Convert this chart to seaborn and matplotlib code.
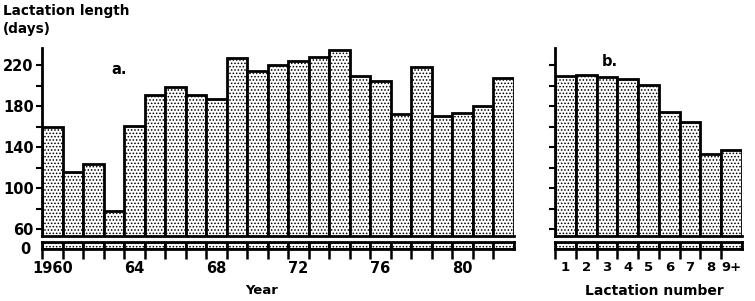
import numpy as np
import pandas as pd
import matplotlib
matplotlib.use("Agg")
import matplotlib.pyplot as plt
import seaborn as sns

# ---- data ----
years = list(range(1960, 1983))
year_length = [160, 116, 123, 78, 161, 191, 199, 191, 187, 227, 214,
               220, 224, 228, 235, 209, 204, 172, 218, 170, 173, 180, 207]
year_ticklabels = {0: "1960", 4: "64", 8: "68", 12: "72", 16: "76", 20: "80"}

lact_numbers = ["1", "2", "3", "4", "5", "6", "7", "8", "9+"]
lact_length = [209, 210, 208, 206, 201, 174, 164, 133, 137]

sns.set_theme(style="white")
plt.rcParams['font.family'] = ['DejaVu Sans']
plt.rcParams['text.color'] = 'black'
plt.rcParams['xtick.color'] = 'black'
plt.rcParams['ytick.color'] = 'black'
plt.rcParams['axes.labelcolor'] = 'black'
plt.rcParams['hatch.linewidth'] = 0.7
plt.rcParams['hatch.color'] = '#333333'

W, H = 755, 301
fig = plt.figure(figsize=(W / 100, H / 100), dpi=100)

def fx(px):
    return px / W

def fy(py):
    return 1 - py / H

# vertical layout (pixels)
up_top, up_bot = 47.6, 236.2
lo_top, lo_bot = 242.0, 248.5
YLIM_UP = (53, 237)
YLIM_LO = (0, 6.5)

def make_panel(x0, x1, cats, vals, ticklabels, tick_fs, letter, letter_xy, ylabels):
    ax_up = fig.add_axes([fx(x0), fy(up_bot), fx(x1 - x0), fy(up_top) - fy(up_bot)])
    ax_lo = fig.add_axes([fx(x0), fy(lo_bot), fx(x1 - x0), fy(lo_top) - fy(lo_bot)])
    df = pd.DataFrame({"cat": cats, "val": vals})
    for ax in (ax_up, ax_lo):
        sns.barplot(data=df, x="cat", y="val", ax=ax, color="white",
                    edgecolor="black", linewidth=2.0, width=1.0, saturation=1)
        for p in ax.patches:
            p.set_hatch(".....")
        ax.set_xlim(-0.5, len(cats) - 0.5)
        ax.set_xlabel("")
        ax.set_ylabel("")
        ax.set_facecolor("none")
    n = len(cats)
    # upper axis
    ax_up.set_ylim(*YLIM_UP)
    for s in ["top", "right"]:
        ax_up.spines[s].set_visible(False)
    for s in ["left", "bottom"]:
        ax_up.spines[s].set_linewidth(2.0)
        ax_up.spines[s].set_color("black")
    ax_up.set_xticks([])
    if ylabels:
        ax_up.set_yticks([60, 100, 140, 180, 220])
        ax_up.set_yticklabels(["60", "100", "140", "180", "220"],
                              fontsize=10.5, fontweight="bold")
        ax_up.set_yticks([80, 120, 160, 200], minor=True)
    else:
        ax_up.set_yticks(list(range(60, 237, 20)))
        ax_up.set_yticklabels([])
    ax_up.tick_params(axis="y", which="both", left=True, length=4, width=1.5,
                      color="black", direction="out", pad=2)
    ax_up.text(letter_xy[0], letter_xy[1], letter, transform=ax_up.transAxes,
               fontsize=10.5, fontweight="bold")
    # lower strip
    ax_lo.set_ylim(*YLIM_LO)
    for s in ["top", "bottom", "left", "right"]:
        ax_lo.spines[s].set_visible(True)
        ax_lo.spines[s].set_linewidth(2.0)
        ax_lo.spines[s].set_color("black")
    if ylabels:
        ax_lo.set_yticks([0])
        ax_lo.set_yticklabels(["0"], fontsize=10.5, fontweight="bold")
        ax_lo.tick_params(axis="y", length=0, pad=8)
    else:
        ax_lo.set_yticks([])
    ax_lo.set_xticks(np.arange(n) - 0.5, minor=True)
    ax_lo.set_xticks(list(ticklabels.keys()))
    ax_lo.set_xticklabels(list(ticklabels.values()), fontsize=tick_fs, fontweight="bold")
    ax_lo.tick_params(axis="x", which="minor", bottom=True, length=7, width=1.8,
                      color="black", direction="out")
    ax_lo.tick_params(axis="x", which="major", bottom=True, length=0, pad=9)
    return ax_up, ax_lo

axa_up, axa_lo = make_panel(42, 514, [str(y) for y in years], year_length,
                            year_ticklabels, 10.5, "a.", (0.148, 0.86), True)
axb_up, axb_lo = make_panel(555, 742, lact_numbers, lact_length,
                            {i: l for i, l in enumerate(lact_numbers)}, 9.5,
                            "b.", (0.25, 0.9), False)

fig.text(fx(262), fy(290), "Year", fontsize=9.5, fontweight="bold",
         ha="center", va="center")
fig.text(fx(654), fy(291), "Lactation number", fontsize=10, fontweight="bold",
         ha="center", va="center")
fig.text(fx(3), fy(4), "Lactation length", fontsize=9.8, fontweight="bold",
         va="top", ha="left")
fig.text(fx(3), fy(22), "(days)", fontsize=9.8, fontweight="bold",
         va="top", ha="left")

fig.savefig("out.png", dpi=100, facecolor="white")
